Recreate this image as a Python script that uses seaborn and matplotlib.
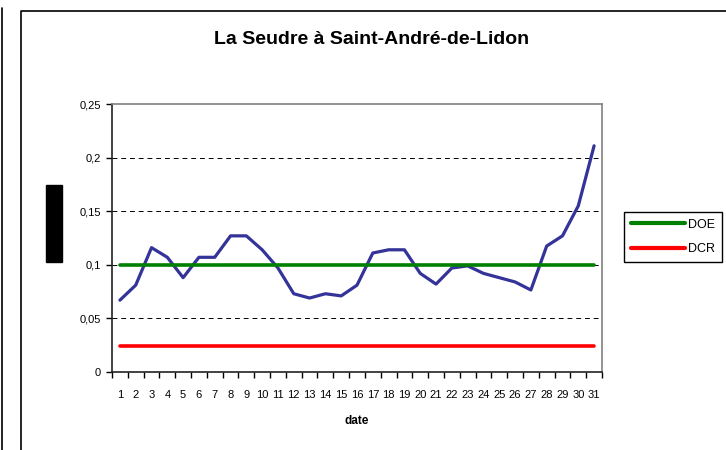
import numpy as np
import matplotlib.pyplot as plt
import seaborn as sns
import pandas as pd
from matplotlib.lines import Line2D
from matplotlib.patches import Rectangle

# values
days = list(range(1, 32))
debit = [0.067, 0.081, 0.116, 0.107, 0.088, 0.107, 0.107, 0.127, 0.127, 0.114,
         0.097, 0.073, 0.069, 0.073, 0.071, 0.081, 0.111, 0.114, 0.114, 0.092,
         0.082, 0.097, 0.099, 0.092, 0.088, 0.084, 0.0765, 0.1175, 0.127, 0.155,
         0.211]
doe = [0.1] * 31
dcr = [0.024] * 31
yticks = [0, 0.05, 0.1, 0.15, 0.2, 0.25]
ytick_labels = ["0", "0,05", "0,1", "0,15", "0,2", "0,25"]

df = pd.DataFrame({"date": days, "debit": debit, "DOE": doe, "DCR": dcr})

sns.set_style("white")
plt.rcParams["font.family"] = ["Liberation Sans", "DejaVu Sans"]
plt.rcParams["text.color"] = "black"
plt.rcParams["axes.labelcolor"] = "black"
plt.rcParams["xtick.color"] = "black"
plt.rcParams["ytick.color"] = "black"

fig = plt.figure(figsize=(7.26, 4.5), dpi=100)
ax = fig.add_axes([112 / 726, 1 - 372 / 450, 490 / 726, 268 / 450])

sns.lineplot(x="date", y="debit", data=df, ax=ax, color="#333399", linewidth=2.3)
sns.lineplot(x="date", y="DOE", data=df, ax=ax, color="#008000", linewidth=2.6, label="DOE")
sns.lineplot(x="date", y="DCR", data=df, ax=ax, color="#ff0000", linewidth=2.6, label="DCR")

ax.set_xlim(0.5, 31.5)
ax.set_ylim(0, 0.25)
ax.set_xticks(days)
ax.set_xticklabels([str(d) for d in days], fontsize=8)
ax.set_xticks(np.arange(0.5, 32, 1), minor=True)
ax.tick_params(axis="x", which="major", length=0, pad=13)
ax.tick_params(axis="x", which="minor", length=4, width=1, direction="out",
               color="black", bottom=True)
ax.set_yticks(yticks)
ax.set_yticklabels(ytick_labels, fontsize=8)
ax.tick_params(axis="y", length=4, width=1, direction="out", color="black",
               left=True, pad=4)

for y in yticks[1:-1]:
    ax.axhline(y, color="black", linewidth=0.7, linestyle=(0, (5, 4)), zorder=0)

ax.spines["left"].set_color("#222222")
ax.spines["bottom"].set_color("#222222")
ax.spines["top"].set_color("#808080")
ax.spines["right"].set_color("#808080")
for s in ax.spines.values():
    s.set_linewidth(1.2)

ax.set_xlabel("date", fontsize=8.5, fontweight="bold", labelpad=11)
ax.set_ylabel("")
ax.get_legend().remove()

fig.text(372 / 726, 1 - 39 / 450, "La Seudre à Saint-André-de-Lidon",
         fontsize=14, fontweight="bold", ha="center", va="center")

handles = [Line2D([], [], color="#008000", linewidth=3),
           Line2D([], [], color="#ff0000", linewidth=3)]
leg = fig.legend(handles, ["DOE", "DCR"], loc="upper left",
                 bbox_to_anchor=(624 / 726, 1 - 212 / 450), borderaxespad=0,
                 fontsize=9, handlelength=4.3, handletextpad=0.25,
                 frameon=True, fancybox=False, framealpha=1,
                 borderpad=0.55, labelspacing=1.0)
leg.get_frame().set_edgecolor("black")
leg.get_frame().set_linewidth(1)

# chart-area frame and the clipped block on the left
fig.add_artist(Line2D([20.5 / 726, 20.5 / 726, 1], [0, 1 - 10.5 / 450, 1 - 10.5 / 450],
                      color="black", linewidth=1.2, transform=fig.transFigure))
fig.add_artist(Line2D([1.5 / 726, 1.5 / 726], [0, 1 - 8 / 450],
                      color="black", linewidth=1.2, transform=fig.transFigure))
fig.add_artist(Rectangle((46 / 726, 1 - 262 / 450), 16 / 726, 77 / 450,
                         color="black", transform=fig.transFigure))

fig.savefig("out.png", dpi=100)
